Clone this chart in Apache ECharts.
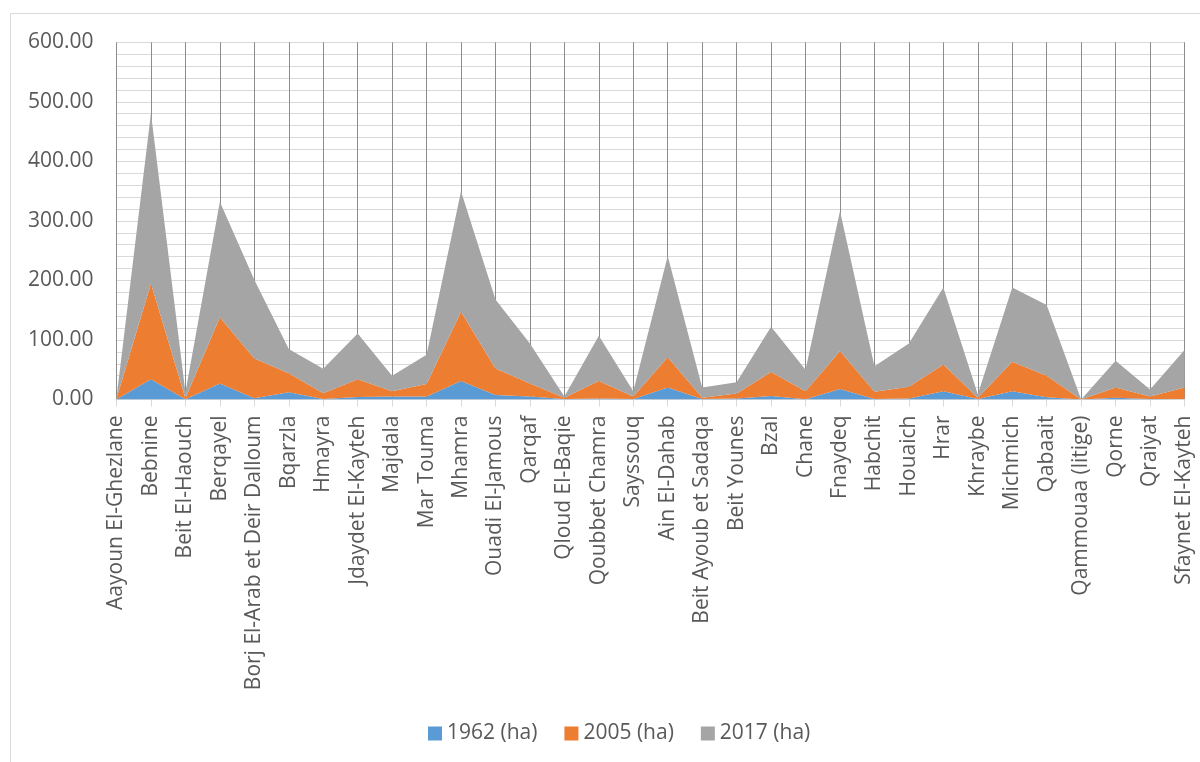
<!DOCTYPE html>
<html lang="en">
<head>
    <meta charset="UTF-8">
    <title>Surfaces (ha)</title>
    <style>
        html, body { margin: 0; padding: 0; background: #fff; }
        #chart { width: 1200px; height: 762px; }
    </style>
    <script src="https://cdn.jsdelivr.net/npm/echarts@6/dist/echarts.min.js"></script>
</head>
<body>
    <div id="chart"></div>
    <script>
      // villages on the x axis
      var villages = [
        'Aayoun El-Ghezlane', 'Bebnine', 'Beit El-Haouch', 'Berqayel',
        'Borj El-Arab et Deir Dalloum', 'Bqarzla', 'Hmayra', 'Jdaydet El-Kayteh',
        'Majdala', 'Mar Touma', 'Mhamra', 'Ouadi El-Jamous', 'Qarqaf',
        'Qloud El-Baqie', 'Qoubbet Chamra', 'Sayssouq', 'Ain El-Dahab',
        'Beit Ayoub et Sadaqa', 'Beit Younes', 'Bzal', 'Chane', 'Fnaydeq',
        'Habchit', 'Houaich', 'Hrar', 'Khraybe', 'Michmich', 'Qabaait',
        'Qammouaa (litige)', 'Qorne', 'Qraiyat', 'Sfaynet El-Kayteh'
      ]

      // stacked values
      var ha1962 = [0.5, 34, 0.5, 27, 2, 12, 1, 4, 5, 5, 31, 7.5, 5, 1, 1.5, 1,
                    20, 1, 1.5, 6, 0.5, 17.5, 1, 1.5, 14, 1, 14, 3.7, 0, 3, 1, 1]
      var ha2005 = [1, 161, 1.5, 111, 67, 32, 9.5, 30, 9, 21, 116.5, 44.5, 22, 2, 29.5, 4,
                    51, 2, 8.5, 40, 13.5, 64, 12, 20, 45, 2, 49.5, 36, 0, 17, 4, 19]
      var ha2017 = [1.5, 286, 10, 194, 132, 41, 41, 77, 26, 49, 202.5, 116, 67, 2, 76, 9,
                    170, 17, 19, 76, 36, 235, 43, 72.5, 129, 6, 124.5, 119, 0, 45, 12, 63]

      var yTicks = [0, 100, 200, 300, 400, 500, 600]

      var seriesNames = ['1962 (ha)', '2005 (ha)', '2017 (ha)']
      var seriesColors = ['#5b9bd5', '#ed7d31', '#a5a5a5']
      var seriesData = [ha1962, ha2005, ha2017]

      var font = '"Open Sans", "Noto Sans", sans-serif'
      var textColor = '#595959'

      var chart = echarts.init(document.getElementById('chart'))

      chart.setOption({
        animation: false,
        graphic: [{
          type: 'rect',
          shape: { x: 10.5, y: 13.5, width: 1200, height: 760 },
          style: { fill: 'none', stroke: '#d9d9d9', lineWidth: 1 },
          silent: true
        }],
        grid: { left: 116.5, right: 15.5, top: 42.3, bottom: 362.5 },
        legend: {
          bottom: 13,
          left: 423,
          itemWidth: 14,
          itemHeight: 14,
          itemGap: 27,
          icon: 'rect',
          textStyle: { fontFamily: font, fontSize: 21, color: textColor },
          data: seriesNames
        },
        xAxis: {
          type: 'category',
          data: villages,
          boundaryGap: false,
          axisLine: { lineStyle: { color: '#d9d9d9' } },
          axisTick: { show: true, length: 7, alignWithLabel: true, lineStyle: { color: '#d9d9d9' } },
          axisLabel: {
            interval: 0,
            rotate: 90,
            margin: 16,
            fontFamily: font,
            fontSize: 21,
            color: textColor
          },
          splitLine: { show: true, lineStyle: { color: '#8c8c8c', width: 1 } }
        },
        yAxis: {
          type: 'value',
          min: yTicks[0],
          max: yTicks[yTicks.length - 1],
          interval: 100,
          axisLine: { show: false },
          axisTick: { show: false },
          axisLabel: {
            margin: 23,
            fontFamily: font,
            fontSize: 21,
            color: textColor,
            formatter: function (v) { return v.toFixed(2) }
          },
          splitLine: { lineStyle: { color: '#d9d9d9', width: 1 } },
          minorTick: { show: false, splitNumber: 5 },
          minorSplitLine: { show: true, lineStyle: { color: '#d9d9d9', width: 1 } }
        },
        series: seriesNames.map(function (name, i) {
          return {
            name: name,
            type: 'line',
            stack: 'total',
            data: seriesData[i],
            showSymbol: false,
            symbol: 'none',
            color: seriesColors[i],
            lineStyle: { width: 0 },
            areaStyle: { color: seriesColors[i], opacity: 1 }
          }
        })
      })
    </script>
</body>
</html>
